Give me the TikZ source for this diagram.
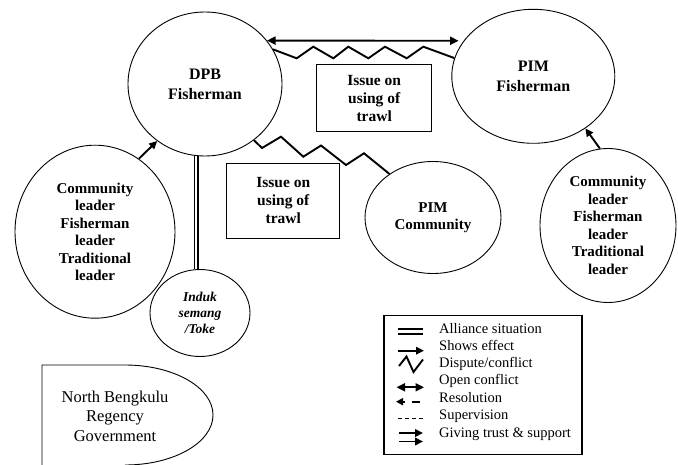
\documentclass[tikz,border=0pt]{standalone}
\usepackage{fontspec}
\setmainfont{Liberation Serif}
\usetikzlibrary{shapes.geometric, arrows.meta, calc}

\begin{document}
\begin{tikzpicture}[x=1pt, y=-1pt,
  actor/.style={draw, ellipse, line width=0.9pt, inner sep=0pt, align=center,
    font=\bfseries\fontsize{15}{17.5}\selectfont},
  issuebox/.style={draw, rectangle, line width=1.1pt, inner sep=0pt, align=center,
    font=\bfseries\fontsize{15.5}{18}\selectfont},
  effect/.style={line width=1.9pt, -{Triangle[length=8pt,width=7.5pt]}},
  openconflict/.style={line width=1.9pt, {Triangle[length=8.5pt,width=8pt]}-{Triangle[length=8.5pt,width=8pt]}},
  dispute/.style={line width=1.9pt, line join=miter},
  alliance/.style={double, line width=1.4pt, double distance=2.4pt},
  legtext/.style={anchor=mid west, inner sep=0pt, font=\fontsize{14.5}{17}\selectfont}
]
\useasboundingbox (0,0) rectangle (678,465);

% actors
\node[actor, minimum width=154pt, minimum height=144pt,
      font=\bfseries\fontsize{16}{20}\selectfont] (dpb) at (205,84) {DPB\\Fisherman};
\node[actor, minimum width=163pt, minimum height=134pt,
      font=\bfseries\fontsize{16}{20}\selectfont] (pimf) at (533.3,76.3) {PIM\\Fisherman};
\node[actor, minimum width=160pt, minimum height=173pt] (lc) at (95,231.7)
  {Community\\leader\\Fisherman\\leader\\Traditional\\leader};
\node[actor, minimum width=136pt, minimum height=154pt] (rc) at (608,225.5)
  {Community\\leader\\Fisherman\\leader\\Traditional\\leader};
\node[actor, minimum width=136pt, minimum height=112pt] (pimc) at (433,217.5)
  {PIM\\Community};
\node[actor, minimum width=100pt, minimum height=87pt,
      font=\bfseries\itshape\fontsize{13.5}{16}\selectfont] (induk) at (200,313)
  {Induk\\semang\\/Toke};

% issue boxes
\node[issuebox, minimum width=115pt, minimum height=67pt] (issue1) at (374.2,98.3)
  {Issue on\\using of\\trawl};
\node[issuebox, minimum width=113pt, minimum height=75pt] (issue2) at (283.3,200.8)
  {Issue on\\using of\\trawl};

% regency government
\draw[line width=0.9pt] (42,465) -- (42,365) -- (125,365)
  arc[start angle=90, end angle=-90, x radius=88pt, y radius=50pt];
\node[font=\fontsize{16.5}{19.5}\selectfont, align=center] (gov) at (115,416)
  {North Bengkulu\\Regency\\Government};

% relations
\draw[openconflict, shorten >=5pt] (dpb.35) -- (pimf.153);
\draw[dispute] (dpb.27) -- (296.7,58.3) -- (313.3,46.7) -- (333.3,58.3) -- (348.3,46.7)
  -- (368.3,58.3) -- (385,46.7) -- (406.7,58.3) -- (423.3,46.7) -- (pimf.167);
\draw[dispute] (dpb.-49) -- (262,148) -- (281,136.7) -- (303.3,156.7) -- (321,145.5)
  -- (346,165) -- (364,153.3) -- (pimc.135.5);
\draw[effect] (lc.59) -- (dpb.230);
\draw[effect] (rc.96) -- (pimf.-45);
\draw[alliance] (dpb.263) -- (dpb.263 |- induk.north);

% legend
\node[draw, line width=1.1pt, minimum width=198pt, minimum height=139pt, inner sep=0pt] (legend) at (483,385) {};
\draw[double, line width=2pt, double distance=2.2pt] (398,331.5) -- (423,331.5);
\draw[effect] (398,350.7) -- (424,350.7);
\draw[dispute] (399,366) -- (406.5,356.5) -- (413.5,372) -- (423,359.5);
\draw[openconflict] (396.5,387.3) -- (424,387.3);
\draw[line width=1.9pt, {Triangle[length=7pt,width=7pt]}-] (396,401.7) -- (405,401.7);
\draw[line width=1.9pt] (411.5,401.7) -- (420,401.7);
\draw[line width=0.7pt, dash pattern=on 4pt off 3pt] (398,418.3) -- (423,418.3);
\draw[effect] (399,433) -- (423,433);
\draw[effect] (399,441.5) -- (423,441.5);

\node[legtext] (l1) at (439,331.7) {Alliance situation};
\node[legtext] (l2) at (439,348.5) {Shows effect};
\node[legtext] (l3) at (439,365) {Dispute/conflict};
\node[legtext] (l4) at (439,382) {Open conflict};
\node[legtext] (l5) at (439,400) {Resolution};
\node[legtext] (l6) at (439,417.3) {Supervision};
\node[legtext] (l7) at (439,435) {Giving trust \& support};
\end{tikzpicture}
\end{document}
